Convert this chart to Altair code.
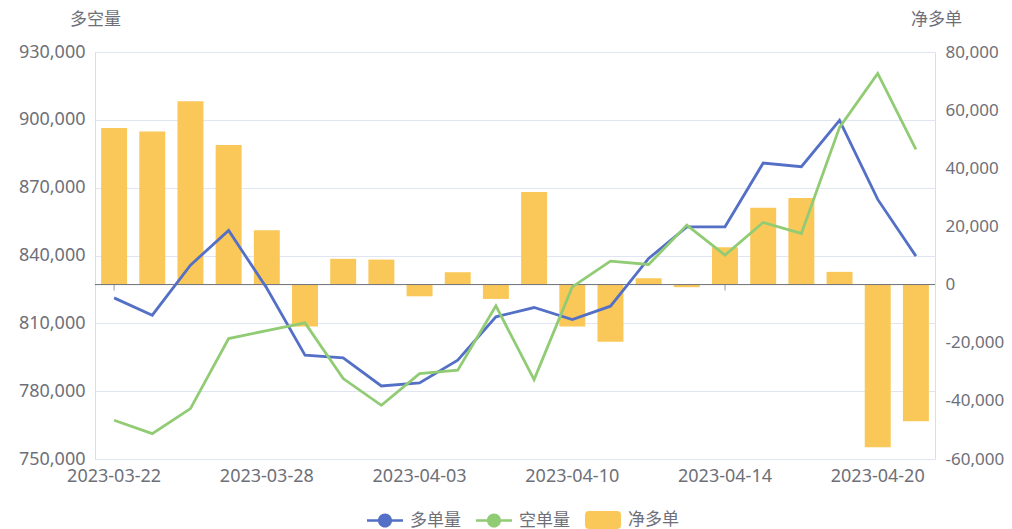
import altair as alt
import pandas as pd

dates = ["2023-03-22", "2023-03-23", "2023-03-24", "2023-03-27", "2023-03-28",
         "2023-03-29", "2023-03-30", "2023-03-31", "2023-04-03", "2023-04-04",
         "2023-04-06", "2023-04-07", "2023-04-10", "2023-04-11", "2023-04-12",
         "2023-04-13", "2023-04-14", "2023-04-17", "2023-04-18", "2023-04-19",
         "2023-04-20", "2023-04-21"]
long_vol = [821260, 813600, 835730, 851080, 825500, 795890, 794700, 782300,
            783650, 793680, 812860, 816990, 811680, 817580, 838680, 852690,
            852700, 880870, 879250, 899760, 864800, 839710]
short_vol = [767120, 761220, 772290, 803270, 806810, 810200, 785560, 773760,
             787780, 789250, 817720, 785120, 826130, 837500, 836020, 853430,
             840150, 854610, 849750, 896660, 920560, 886930]
net_long = [53900, 52650, 63100, 48000, 18700, -14400, 8850, 8600,
            -4030, 4250, -4940, 31800, -14400, -19650, 2180, -900,
            12870, 26440, 29770, 4370, -55970, -47000]
label_dates = ["2023-03-22", "2023-03-28", "2023-04-03", "2023-04-10",
               "2023-04-14", "2023-04-20"]
left_ticks = [750000, 780000, 810000, 840000, 870000, 900000, 930000]
right_ticks = [-60000, -40000, -20000, 0, 20000, 40000, 60000, 80000]
series_names = ["多单量", "空单量", "净多单"]
series_colors = ["#5470c6", "#91cc75", "#fac858"]

FONT = "Noto Sans, Noto Sans CJK SC"
GREY = "#6E7079"
LABEL_EXPR = "replace(format(datum.value, ',.0f'), '\u2212', '-')"

df = pd.DataFrame({"date": dates, "long": long_vol, "short": short_vol, "net": net_long})
zero_df = pd.DataFrame({"z": [0]})
tick_df = pd.DataFrame({"date": label_dates, "z": [0] * len(label_dates)})
legend_df = pd.DataFrame({"series": series_names, "date": [dates[0]] * 3, "v": [0, 0, 0]})

x_scale = alt.Scale(type="band", domain=dates, paddingInner=0.32, paddingOuter=0.16)
x_axis = alt.Axis(values=label_dates, domain=False, ticks=False, grid=False,
                  labelAngle=0, labelPadding=8, labelFontSize=18, labelColor=GREY,
                  labelFont=FONT, labelOverlap=False, title=None)


def X():
    return alt.X("date:N", scale=x_scale, axis=x_axis, sort=None, title=None)


right_scale = alt.Scale(domain=[-60000, 80000], nice=False, zero=False)
right_axis = alt.Axis(orient="right", values=right_ticks, labelExpr=LABEL_EXPR, grid=False,
                      domain=False, ticks=False, labelPadding=10, labelFontSize=17,
                      labelColor=GREY, labelFont=FONT, title="净多单", titleAngle=0,
                      titleX=1, titleY=-33, titleAlign="center", titleBaseline="middle",
                      titleFontSize=17, titleFontWeight="normal", titleColor=GREY,
                      titleFont=FONT)
left_scale = alt.Scale(domain=[750000, 930000], nice=False, zero=False)
left_axis = alt.Axis(orient="left", values=left_ticks, labelExpr=LABEL_EXPR, grid=True,
                     gridColor="#E0E6F1", gridWidth=1, domain=False, ticks=False,
                     labelPadding=10, labelFontSize=18, labelColor=GREY, labelFont=FONT,
                     title="多空量", titleAngle=0, titleX=0, titleY=-33,
                     titleAlign="center", titleBaseline="middle", titleFontSize=17,
                     titleFontWeight="normal", titleColor=GREY, titleFont=FONT)

bars = alt.Chart(df).mark_bar(color="#fac858").encode(
    x=X(), y=alt.Y("net:Q", scale=right_scale, axis=right_axis, title="净多单"))
zero_rule = alt.Chart(zero_df).mark_rule(color=GREY, strokeWidth=1).encode(
    y=alt.Y("z:Q", scale=right_scale, axis=right_axis, title="净多单"))
zero_ticks = alt.Chart(tick_df).mark_tick(
    orient="vertical", size=6, thickness=1, color=GREY, yOffset=3).encode(
    x=X(), y=alt.Y("z:Q", scale=right_scale, axis=right_axis, title="净多单"))
bar_layer = alt.layer(zero_ticks, bars, zero_rule)

line_long = alt.Chart(df).mark_line(color="#5470c6", strokeWidth=2.8).encode(
    x=X(), y=alt.Y("long:Q", scale=left_scale, axis=left_axis, title="多空量"))
line_short = alt.Chart(df).mark_line(color="#91cc75", strokeWidth=2.8).encode(
    x=X(), y=alt.Y("short:Q", scale=left_scale, axis=left_axis, title="多空量"))
line_layer = alt.layer(line_long, line_short)

line_sym = ("M-1,-0.075 L-0.383,-0.075 L-0.383,0.075 L-1,0.075 Z "
            "M0.383,-0.075 L1,-0.075 L1,0.075 L0.383,0.075 Z "
            "M0.39,0 A0.39,0.39 0 1,1 -0.39,0 A0.39,0.39 0 1,1 0.39,0 Z")
rect_sym = ("M-0.78,-0.5 L0.78,-0.5 Q1,-0.5 1,-0.28 L1,0.28 Q1,0.5 0.78,0.5 "
            "L-0.78,0.5 Q-1,0.5 -1,0.28 L-1,-0.28 Q-1,-0.5 -0.78,-0.5 Z")

legend = alt.Legend(orient="none", direction="horizontal", legendX=272, legendY=450,
                    title=None, padding=0, offset=0, symbolSize=1296,
                    symbolStrokeWidth=0, labelFontSize=17, labelColor=GREY,
                    labelFont=FONT, labelOffset=7, columnPadding=15)

legend_layer = alt.Chart(legend_df).mark_point(filled=True, size=1296, opacity=1).encode(
    x=X(),
    y=alt.Y("v:Q", axis=None),
    color=alt.Color("series:N", scale=alt.Scale(domain=series_names, range=series_colors),
                    legend=legend, sort=series_names),
    shape=alt.Shape("series:N", scale=alt.Scale(domain=series_names,
                                                range=[line_sym, line_sym, rect_sym]),
                    legend=legend, sort=series_names),
).transform_filter("false")

chart = alt.layer(bar_layer, line_layer, legend_layer).resolve_scale(
    y="independent"
).properties(
    width=840, height=407,
    autosize=alt.AutoSizeParams(type="none"),
    padding={"left": 87, "top": 44, "right": 69, "bottom": 70},
).configure_view(stroke=None).configure(background="white")

chart.save("out.html", embed_options={"renderer": "svg", "actions": False})
